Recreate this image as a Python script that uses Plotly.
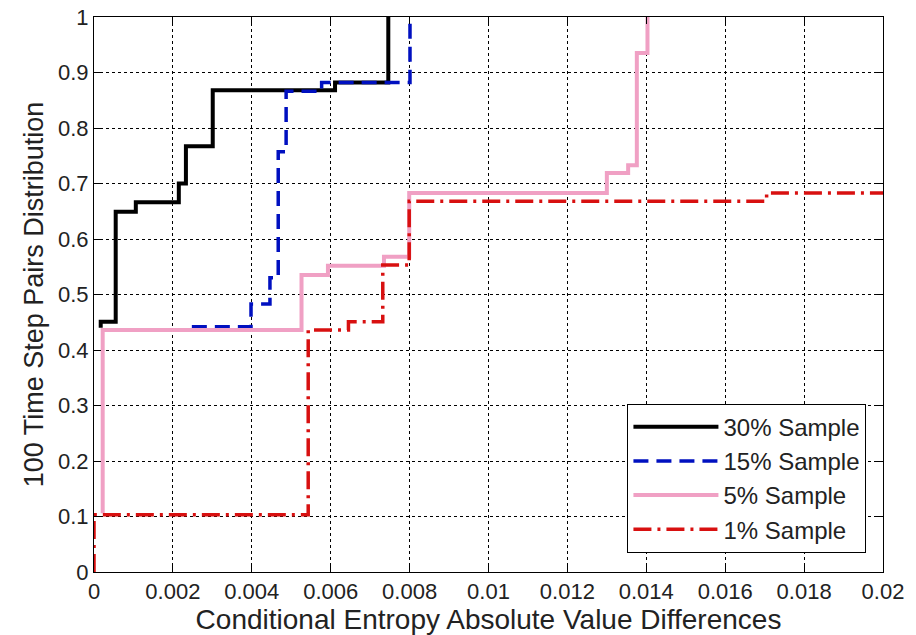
import plotly.graph_objects as go

# Step-curve breakpoints (x = step location, y = new cumulative value)
x30 = [0.00017, 0.00017, 0.00055, 0.00106, 0.00215, 0.00233, 0.00301, 0.00611, 0.00746]
y30 = [0.440, 0.451, 0.649, 0.666, 0.700, 0.767, 0.868, 0.882, 1.000]

x15 = [0.00248, 0.00398, 0.00446, 0.00467, 0.00487, 0.00577, 0.00801]
y15 = [0.442, 0.483, 0.530, 0.757, 0.866, 0.882, 1.000]

x5 = [0.00022, 0.00022, 0.00526, 0.00593, 0.00735, 0.00799, 0.01300, 0.01354, 0.01376, 0.01403]
y5 = [0.106, 0.436, 0.535, 0.552, 0.568, 0.683, 0.719, 0.733, 0.935, 1.000]

x1 = [0.0, 0.0, 0.00543, 0.00645, 0.00732, 0.00799, 0.01705, 0.02]
y1 = [0.0, 0.103, 0.436, 0.451, 0.553, 0.668, 0.683, 0.683]

names = ["30% Sample", "15% Sample", "5% Sample", "1% Sample"]

x_tickvals = [0, 0.002, 0.004, 0.006, 0.008, 0.01, 0.012, 0.014, 0.016, 0.018, 0.02]
x_ticktext = ["0", "0.002", "0.004", "0.006", "0.008", "0.01", "0.012", "0.014", "0.016", "0.018", "0.02"]
y_tickvals = [0, 0.1, 0.2, 0.3, 0.4, 0.5, 0.6, 0.7, 0.8, 0.9, 1]
y_ticktext = ["0", "0.1", "0.2", "0.3", "0.4", "0.5", "0.6", "0.7", "0.8", "0.9", "1"]

FONT = "Liberation Sans, Arial, sans-serif"

fig = go.Figure()
fig.add_trace(go.Scatter(x=x30, y=y30, mode="lines", name=names[0], legendgroup="a",
                         line=dict(color="black", width=4, shape="hv")))
fig.add_trace(go.Scatter(x=x15, y=y15, mode="lines", name=names[1], legendgroup="b",
                         line=dict(color="#0010c0", width=3.5, shape="hv", dash="15px,8px")))
fig.add_trace(go.Scatter(x=x5, y=y5, mode="lines", name=names[2], legendgroup="c",
                         line=dict(color="#f0a0c4", width=4, shape="hv")))
fig.add_trace(go.Scatter(x=x1, y=y1, mode="lines", name=names[3], legendgroup="d",
                         line=dict(color="#d81010", width=3.5, shape="hv", dash="18px,6px,3px,6px")))

axis_common = dict(
    showline=True, linecolor="black", linewidth=1, mirror="ticks",
    ticks="inside", ticklen=7, tickcolor="black",
    showgrid=True, gridcolor="black", gridwidth=1, griddash="dot",
    zeroline=False, tickfont=dict(family=FONT, size=22, color="#222"),
)

fig.update_xaxes(range=[0, 0.02], tickmode="array", tickvals=x_tickvals, ticktext=x_ticktext,
                 title=dict(text="Conditional Entropy Absolute Value Differences",
                            font=dict(family=FONT, size=28, color="#222"), standoff=3),
                 **axis_common)
fig.update_yaxes(range=[0, 1], tickmode="array", tickvals=y_tickvals, ticktext=y_ticktext,
                 title=dict(text="100 Time Step Pairs Distribution",
                            font=dict(family=FONT, size=27, color="#222"), standoff=6),
                 **axis_common)

fig.update_layout(
    width=916, height=635,
    margin=dict(l=94, r=33, t=17, b=63, autoexpand=False),
    paper_bgcolor="white", plot_bgcolor="white",
    font=dict(family=FONT, color="black"),
    legend=dict(x=0.979, y=0.035, xanchor="right", yanchor="bottom",
                bgcolor="white", bordercolor="black", borderwidth=1,
                font=dict(family=FONT, size=24, color="#222"),
                traceorder="grouped", tracegroupgap=0, itemwidth=85),
    showlegend=True,
)

fig.write_html("out.html")
